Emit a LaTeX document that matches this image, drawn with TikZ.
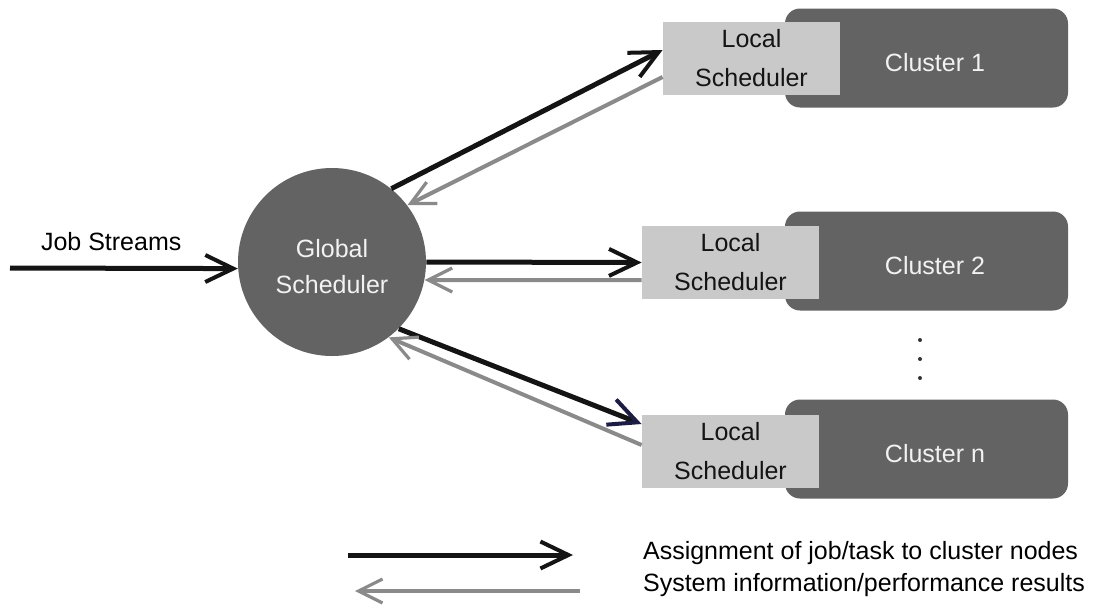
\documentclass[tikz,border=0pt]{standalone}
\usepackage{fontspec}
\setmainfont{Liberation Sans}
\usetikzlibrary{arrows.meta}

\definecolor{darkfill}{HTML}{636363}
\definecolor{lightfill}{HTML}{C9C9C9}
\definecolor{backline}{HTML}{8A8A8A}
\definecolor{paletext}{HTML}{F2F2F2}
\definecolor{tipnavy}{HTML}{1C1C44}

\tikzset{
  x=0.5pt, y=-0.5pt,
  every node/.style={font=\fontsize{12.5}{19.5}\selectfont},
  globalnode/.style={circle, fill=darkfill, minimum size=94pt, inner sep=0pt,
    text=paletext, align=center, font=\fontsize{12.5}{18}\selectfont},
  clusterbox/.style={rectangle, rounded corners=7.5pt, fill=darkfill,
    minimum width=141.5pt, minimum height=49.5pt, inner sep=0pt},
  localbox/.style={rectangle, fill=lightfill, minimum width=88.5pt,
    minimum height=36.5pt, inner sep=0pt, align=center, text=black!92},
  clustertext/.style={text=paletext, xshift=4.25pt, yshift=-2.5pt},
  assign/.style={line width=2.5pt, black!92,
    -{Straight Barb[length=14pt,width=13.5pt,line width=2pt]}},
  report/.style={line width=2pt, backline,
    -{Straight Barb[length=12pt,width=12pt,line width=1.6pt]}},
}

\begin{document}
\begin{tikzpicture}
\useasboundingbox (0,0) rectangle (1101,605);

% clusters with their local schedulers
\node[clusterbox, label={[clustertext]center:Cluster 1}] (c1) at (926.5,58) {};
\node[clusterbox, label={[clustertext]center:Cluster 2}] (c2) at (926.5,261) {};
\node[clusterbox, label={[clustertext]center:Cluster n}] (cn) at (926.5,449) {};

\node[localbox] (l1) at (751.5,58.5) {Local\\Scheduler};
\node[localbox] (l2) at (730.5,262.5) {Local\\Scheduler};
\node[localbox] (ln) at (730.5,451) {Local\\Scheduler};

% vertical ellipsis between cluster 2 and cluster n
\fill[black!80] (920,340) circle (1pt) (920,359) circle (1pt) (920,378) circle (1pt);

% global scheduler
\node[globalnode] (g) at (332,262) {};
\node[text=paletext, align=center, font=\fontsize{12.5}{18}\selectfont] (gt) at (332,267) {Global\\Scheduler};

% incoming job streams
\coordinate (src) at (10,268);
\node[anchor=west] (js) at (34,242) {Job Streams};
\draw[assign] (src) -- (g.184);

% assignments to clusters
\draw[assign] (g.51) -- ([yshift=4.25pt]l1.west);
\draw[assign] (g.east) -- (l2.west);
\draw[line width=2.5pt, black!92,
  -{Straight Barb[length=14pt,width=13.5pt,line width=2pt,color=tipnavy]}]
  (g.-45) -- ([yshift=13.5pt]ln.west);

% feedback from clusters
\draw[report] ([yshift=-9.25pt]l1.west) -- (g.37);
\draw[report] ([yshift=-8.75pt]l2.west) -- (g.-11);
\draw[report] ([yshift=3pt]ln.west) -- (g.-53);

% legend
\coordinate (a1) at (348,555);
\coordinate (a2) at (573,555);
\coordinate (r1) at (580,591);
\coordinate (r2) at (355,591);
\draw[assign] (a1) -- (a2);
\draw[report] (r1) -- (r2);
\node[anchor=west] (la) at (636,553) {Assignment of job/task to cluster nodes};
\node[anchor=west] (lr) at (636,585) {System information/performance results};
\end{tikzpicture}
\end{document}
